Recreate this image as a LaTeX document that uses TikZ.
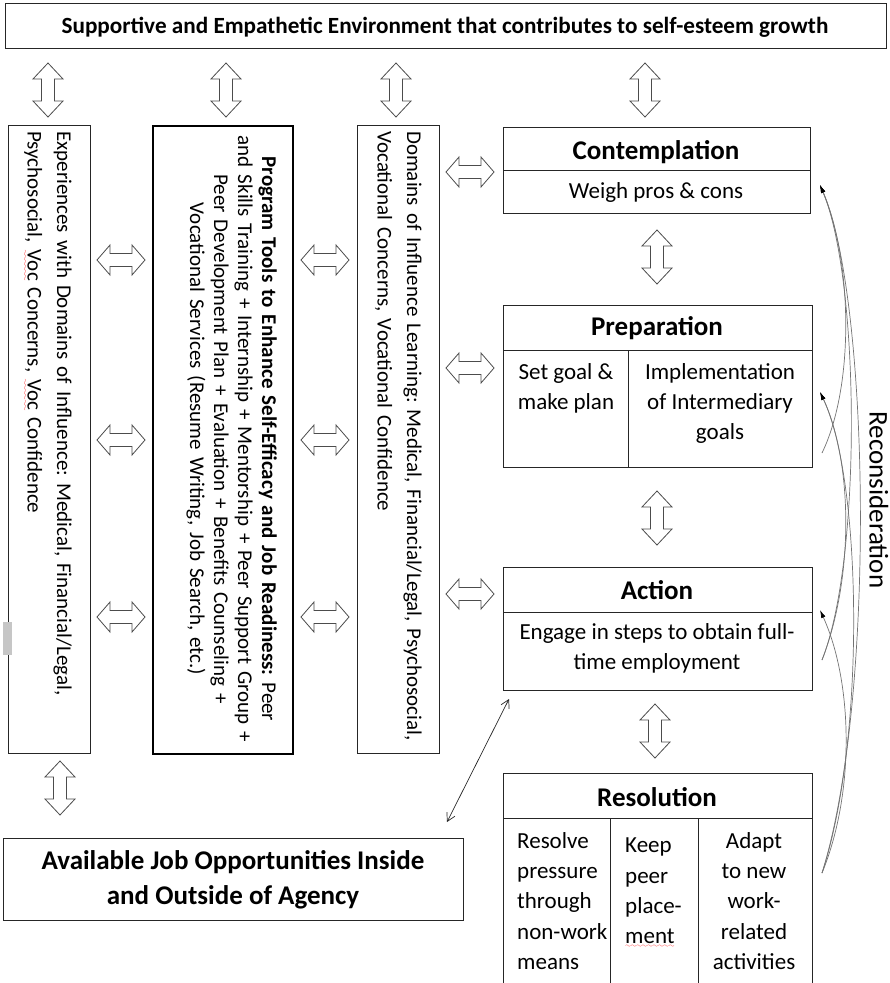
\documentclass[tikz,border=0pt]{standalone}
\usepackage{fontspec}
\setmainfont{Carlito}
\usetikzlibrary{arrows.meta}
\font\sixly=lasy6
\newcommand\redwave[1]{\setbox0\hbox{#1}\rlap{\textcolor{red}{\lower4pt\hbox to \wd0{\xleaders\hbox{\sixly\char58}\hfill}}}\box0\relax}
\frenchspacing
\begin{document}
\begin{tikzpicture}[x=1pt,y=-1pt,
  box/.style={draw=black!85, line width=0.9pt, inner sep=0pt},
  thickbox/.style={draw=black, line width=2pt, inner sep=0pt},
  arr/.style={draw=black!70, line width=0.8pt, fill=white, line join=miter},
  body/.style={font=\fontsize{23}{30.3}\selectfont, inner sep=0pt},
  rbody/.style={font=\fontsize{21}{29.5}\selectfont, inner sep=0pt},
  ttl/.style={font=\fontsize{27}{30}\selectfont\bfseries, inner sep=0pt},
  recon/.style={draw=black!55, line width=0.7pt, -{Latex[length=8pt,width=4.5pt,black]}},
  vda/.pic={\draw[arr] (0,-27) -- (15,-11) -- (6.5,-11) -- (6.5,11) -- (15,11) -- (0,27) -- (-15,11) -- (-6.5,11) -- (-6.5,-11) -- (-15,-11) -- cycle;},
  hda/.pic={\draw[arr] (-24,0) -- (-11,-15) -- (-11,-6.5) -- (11,-6.5) -- (11,-15) -- (24,0) -- (11,15) -- (11,6.5) -- (-11,6.5) -- (-11,15) -- cycle;}
]
\useasboundingbox (0,0) rectangle (890,983);
% top banner
\node[box, line width=1.2pt, minimum width=881pt, minimum height=45pt, anchor=north west] (banner) at (5,3) {};
\node[font=\fontsize{23.2}{26}\selectfont\bfseries, inner sep=0pt] (bannert) at (445,27) {Supportive and Empathetic Environment that contributes to self-esteem growth};
% top vertical arrows
\pic at (48,90) {vda};
\pic at (226,90) {vda};
\pic at (396,90) {vda};
\pic at (645,90) {vda};
% left column boxes
\node[box, minimum width=82pt, minimum height=628pt, anchor=north west] (exp) at (8,125) {};
\node[rbody, rotate=-90, anchor=north west, align=left, text width=620pt] (expt) at (72,131) {Experiences with Domains of Influence: Medical, Financial/Legal,\\Psychosocial, \redwave{Voc} Concerns, \redwave{Voc} Confidence};
\fill[gray!45] (3,622) rectangle (12,655);
\node[thickbox, minimum width=140pt, minimum height=628pt, anchor=north west] (prog) at (152,125) {};
\node[font=\fontsize{21}{24}\selectfont, inner sep=0pt, rotate=-90, anchor=north, align=center, text width=625pt] (progt) at (277,439) {\textbf{Program Tools to Enhance Self-Efficacy and Job Readiness:} Peer\\and Skills Training + Internship + Mentorship + Peer Support Group +\\Peer Development Plan + Evaluation + Benefits Counseling +\\Vocational Services (Resume Writing, Job Search, etc.)};
\node[box, minimum width=82pt, minimum height=628pt, anchor=north west] (dom) at (357,125) {};
\node[rbody, rotate=-90, anchor=north west, align=left, text width=620pt] (domt) at (422,131) {Domains of Influence Learning: Medical, Financial/Legal, Psychosocial,\\Vocational Concerns, Vocational Confidence};
% horizontal arrows between columns
\foreach \yy in {260,440,617} {
  \pic at (121,\yy) {hda};
  \pic at (325,\yy) {hda};
}
\pic at (470,172) {hda};
\pic at (470,368) {hda};
\pic at (470,594) {hda};
% Contemplation
\node[box, minimum width=307pt, minimum height=86pt, anchor=north west] (cont) at (503,127) {};
\draw[black!85, line width=0.9pt] (cont.west |- 0,170) -- (cont.east |- 0,170);
\node[ttl] (contt) at (656,152) {Contemplation};
\node[body] (contb) at (656,192) {Weigh pros \& cons};
\pic at (657,257) {vda};
% Preparation
\node[box, minimum width=309pt, minimum height=162pt, anchor=north west] (prep) at (503,305) {};
\draw[black!85, line width=0.9pt] (503,350) -- (812,350);
\draw[black!85, line width=0.9pt] (628,350) -- (628,467);
\node[ttl] (prept) at (657,328) {Preparation};
\node[body, anchor=north, align=center] (prepa) at (566,363) {Set goal \&\\make plan};
\node[body, anchor=north, align=center] (prepb) at (720,363) {Implementation\\of Intermediary\\goals};
\pic at (657,518) {vda};
% Action
\node[box, minimum width=309pt, minimum height=123pt, anchor=north west] (act) at (503,567) {};
\draw[black!85, line width=0.9pt] (503,612) -- (812,612);
\node[ttl] (actt) at (657,590) {Action};
\node[body, anchor=north, align=center] (actb) at (657,623) {Engage in steps to obtain full-\\time employment};
\pic at (655,731) {vda};
% Resolution
\node[box, minimum width=309pt, minimum height=215pt, anchor=north west] (res) at (503,773) {};
\draw[black!85, line width=0.9pt] (503,818) -- (812,818);
\draw[black!85, line width=0.9pt] (610,818) -- (610,990);
\draw[black!85, line width=0.9pt] (698,818) -- (698,990);
\node[ttl] (rest) at (657,797) {Resolution};
\node[body, anchor=north west, align=left] (resa) at (517,832) {Resolve\\pressure\\through\\non-work\\means};
\node[body, anchor=north west, align=left] (resb) at (625,838) {Keep\\peer\\place-\\\redwave{ment}};
\node[body, anchor=north, align=center] (resc) at (754,832) {Adapt\\to new\\work-\\related\\activities};
% bottom-left
\pic at (60,788) {vda};
\node[box, minimum width=460pt, minimum height=82pt, anchor=north west] (jobs) at (3,838) {};
\node[font=\fontsize{27}{35}\selectfont\bfseries, align=center, inner sep=0pt] (jobst) at (233,880) {Available Job Opportunities Inside\\and Outside of Agency};
% diagonal arrow
\coordinate (dj) at (447,822);
\coordinate (da) at (509,699);
\draw[black!85, line width=0.7pt, {Straight Barb[length=8pt,width=9pt]}-{Straight Barb[length=8pt,width=9pt]}] (dj) -- (da);
% reconsideration
\coordinate (tipC) at (820,185);
\coordinate (tipP) at (820,392);
\coordinate (tipA) at (820,610);
\coordinate (stP) at (822,453);
\coordinate (stA) at (822,660);
\coordinate (stR) at (822,873);
\draw[recon] (stR) .. controls (876,700) and (870,300) .. (tipC);
\draw[recon] (stR) .. controls (866,740) and (862,480) .. (tipP);
\draw[recon] (stR) .. controls (856,790) and (852,680) .. (tipA);
\draw[recon] (stA) .. controls (862,560) and (860,280) .. (tipC);
\draw[recon] (stA) .. controls (855,575) and (852,460) .. (tipP);
\draw[recon] (stP) .. controls (855,385) and (852,260) .. (tipC);
\node[font=\fontsize{27}{30}\selectfont, rotate=-90, inner sep=0pt] (rct) at (879,500) {Reconsideration};
\end{tikzpicture}
\end{document}
